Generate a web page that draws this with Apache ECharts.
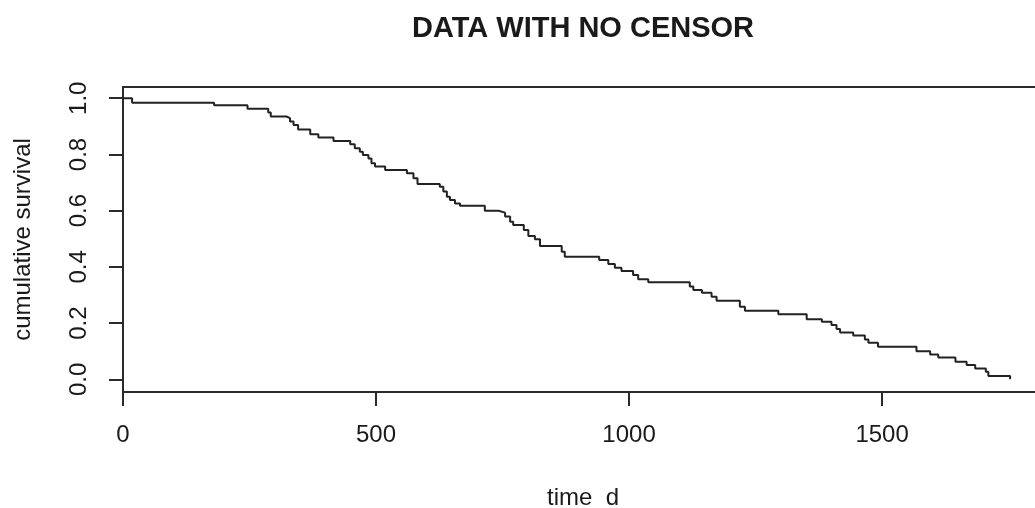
<!DOCTYPE html>
<html>
<head>
<meta charset="utf-8">
<script src="https://cdn.jsdelivr.net/npm/echarts@6/dist/echarts.min.js"></script>
<style>
  html, body { margin: 0; padding: 0; background: #fff; }
  #chart { width: 1035px; height: 508px; }
</style>
</head>
<body>
<div id="chart"></div>
<script>
// Kaplan-Meier step points
const times = [0, 18, 180, 246, 287, 292, 323, 330, 337, 346, 370, 386, 416, 449, 458, 468, 474, 485, 491, 498,
  518, 561, 574, 582, 626, 633, 640, 646, 656, 666, 715, 742, 755, 765, 771, 792, 801, 814, 824, 867,
  873, 941, 959, 972, 985, 1008, 1018, 1038, 1120, 1127, 1144, 1163, 1173, 1219, 1229, 1295, 1351, 1381, 1400, 1410,
  1417, 1443, 1466, 1473, 1492, 1568, 1595, 1611, 1645, 1667, 1684, 1705, 1710, 1753]
const survival = [1.0, 0.984, 0.975, 0.963, 0.949, 0.935, 0.929, 0.917, 0.905, 0.889, 0.872, 0.860, 0.848, 0.836, 0.822, 0.810, 0.798, 0.786, 0.769, 0.757,
  0.745, 0.733, 0.715, 0.695, 0.685, 0.668, 0.650, 0.638, 0.626, 0.618, 0.600, 0.593, 0.579, 0.561, 0.549, 0.531, 0.510, 0.498, 0.474, 0.454,
  0.436, 0.425, 0.410, 0.397, 0.385, 0.371, 0.356, 0.345, 0.330, 0.318, 0.308, 0.294, 0.280, 0.258, 0.244, 0.232, 0.214, 0.205, 0.193, 0.179,
  0.167, 0.156, 0.142, 0.130, 0.116, 0.100, 0.088, 0.078, 0.063, 0.051, 0.039, 0.027, 0.012, 0.0]

const xTicks = [0, 500, 1000, 1500]
const yTicks = [0, 0.2, 0.4, 0.6, 0.8, 1.0]

const ink = '#1a1a1a'
const lineCol = '#2a2a2a'
const font = 'Liberation Sans, Arial, sans-serif'

const chart = echarts.init(document.getElementById('chart'), null, { renderer: 'canvas' })
chart.setOption({
  animation: false,
  graphic: [{
    type: 'text',
    x: 583,
    y: 29,
    style: {
      text: 'DATA WITH NO CENSOR',
      font: 'bold 29px ' + font,
      fill: ink,
      textAlign: 'center',
      textVerticalAlign: 'middle'
    }
  }],
  grid: {
    left: 123,
    top: 87,
    right: -8,
    bottom: 116,
    containLabel: false,
    outerBoundsMode: 'none',
    show: true,
    borderColor: lineCol,
    borderWidth: 2,
    backgroundColor: 'transparent'
  },
  xAxis: {
    type: 'value',
    min: 0,
    max: 1818,
    name: 'time_d',
    nameLocation: 'middle',
    nameGap: 94,
    nameTextStyle: { color: ink, fontSize: 24, fontFamily: font },
    axisLine: { show: true, onZero: false, lineStyle: { color: lineCol, width: 2 } },
    axisTick: { show: true, customValues: xTicks, length: 14, lineStyle: { color: lineCol, width: 2 } },
    axisLabel: {
      customValues: xTicks,
      color: ink,
      fontSize: 24,
      fontFamily: font,
      margin: 31,
      formatter: (v) => String(v)
    },
    splitLine: { show: false }
  },
  yAxis: {
    type: 'value',
    min: -0.045,
    max: 1.04,
    name: 'cumulative survival',
    nameLocation: 'middle',
    nameRotate: 90,
    nameGap: 88,
    nameTextStyle: { color: ink, fontSize: 24, fontFamily: font },
    axisLine: { show: true, onZero: false, lineStyle: { color: lineCol, width: 2 } },
    axisTick: { show: true, customValues: yTicks, length: 14, lineStyle: { color: lineCol, width: 2 } },
    axisLabel: {
      customValues: yTicks,
      rotate: 90,
      color: ink,
      fontSize: 24,
      fontFamily: font,
      margin: 32,
      formatter: (v) => v.toFixed(1)
    },
    splitLine: { show: false }
  },
  series: [{
    type: 'line',
    step: 'end',
    data: times.map((t, i) => [t, survival[i]]),
    symbol: 'none',
    lineStyle: { color: '#222', width: 2 }
  }]
})
</script>
</body>
</html>
